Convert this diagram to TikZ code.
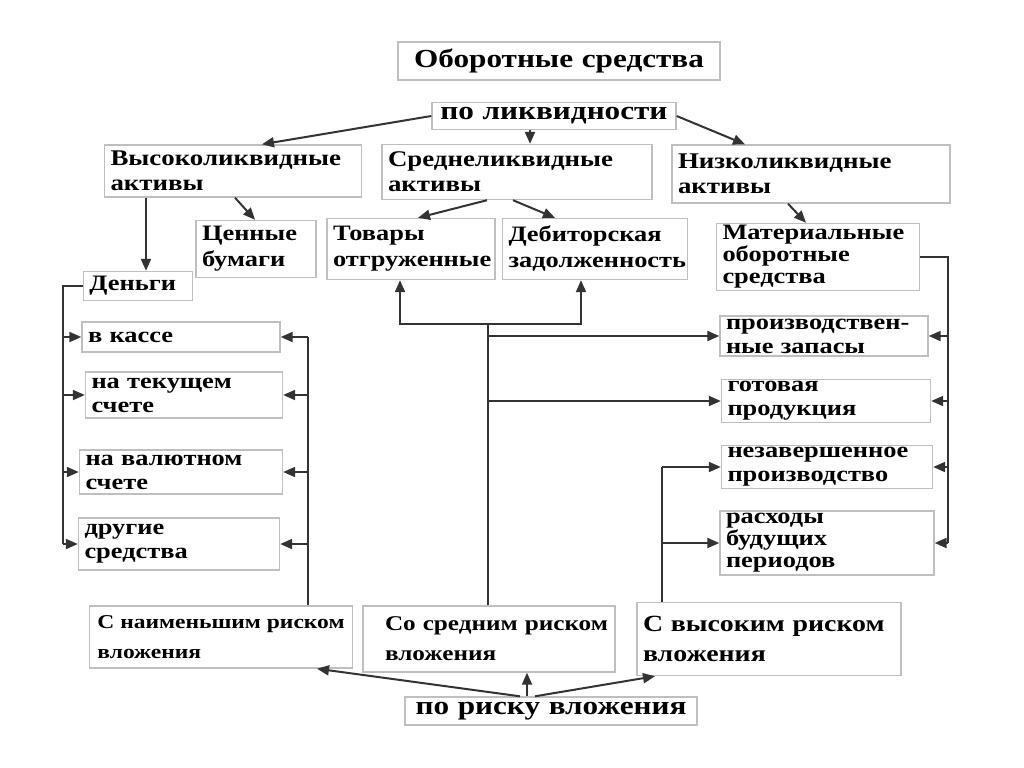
\documentclass[tikz,border=0pt]{standalone}
\usepackage{fontspec}
\setmainfont{Liberation Serif}[FakeStretch=1.2]
\usetikzlibrary{arrows.meta}

\newcommand{\boxfont}[2]{\bfseries\fontsize{#1}{#2}\selectfont}

\begin{document}
\begin{tikzpicture}[
  x=0.5pt, y=-0.5pt,
  box/.style={draw=gray!50, line width=0.7pt, align=left, inner xsep=3pt, inner ysep=1pt},
  head/.style={box, align=center, font=\boxfont{13}{15}},
  group/.style={box, font=\boxfont{11.2}{12.5}},
  item/.style={box, font=\boxfont{11}{13}},
  small/.style={box, font=\boxfont{11}{12}},
  riskbox/.style={box, font=\boxfont{10.5}{15}},
  line/.style={draw=black!80, line width=1pt},
  arr/.style={line, -{Triangle[length=6pt,width=5pt]}}
]
\useasboundingbox (0,0) rectangle (1024,767);

% top levels
\node[head, text width=155pt, minimum height=19pt] (title) at (559,61) {Оборотные средства};
\node[head, text width=116pt, minimum height=13.5pt] (liq) at (554,116) {по ликвидности};

\node[group, text width=122.5pt, minimum height=26pt] (high) at (233,171) {Высоколиквидные\\активы};
\node[group, text width=129pt, minimum height=27.5pt] (mid) at (517,172) {Среднеликвидные\\активы};
\node[group, text width=133pt, minimum height=29pt] (low) at (811,174) {Низколиквидные\\активы};

\node[item, text width=54pt, minimum height=28.5pt] (cb) at (256,249) {Ценные\\бумаги};
\node[item, text width=78pt, minimum height=30.5pt] (tov) at (411,249) {Товары\\отгруженные};
\node[item, text width=86.5pt, minimum height=30.5pt] (deb) at (595,249) {Дебиторская\\задолженность};
\node[small, text width=95.5pt, minimum height=33pt, font=\boxfont{11}{11}] (mat) at (818,257) {Материальные\\оборотные\\средства};

% money
\node[item, text width=48.5pt, minimum height=14.5pt] (den) at (138,286) {Деньги};
\node[small, text width=93pt, minimum height=15pt] (kas) at (181,337) {в кассе};
\node[small, text width=92.5pt, minimum height=23pt] (tek) at (184,395) {на текущем\\счете};
\node[small, text width=95.5pt, minimum height=22pt] (val) at (181,472) {на валютном\\счете};
\node[small, text width=94.5pt, minimum height=26pt] (dr) at (179,544) {другие\\средства};

% material
\node[small, text width=98pt, minimum height=20pt] (pz) at (824,336) {производствен-\\ные запасы};
\node[small, text width=98.5pt, minimum height=18.5pt] (gp) at (826,401) {готовая\\продукция};
\node[small, text width=99.5pt, minimum height=21.5pt] (nzp) at (827,467) {незавершенное\\производство};
\node[small, text width=101pt, minimum height=32pt, font=\boxfont{11}{11}] (rbp) at (827,543) {расходы\\будущих\\периодов};

% risk
\node[riskbox, minimum width=131.5pt, minimum height=31pt, inner xsep=2pt, font=\boxfont{9.8}{15}] (rlow) at (221,637) {С наименьшим риском\\вложения};
\node[riskbox, text width=120pt, minimum height=33pt] (rmid) at (489,639) {\hspace*{8pt}Со средним риском\\\hspace*{8pt}вложения};
\node[riskbox, text width=126pt, minimum height=36.5pt, font=\boxfont{11.6}{15}] (rhigh) at (769,639) {С высоким риском\\вложения};
\node[head, text width=140pt, minimum height=14pt] (risk) at (551,711) {по риску вложения};

\coordinate (br) at (488,324);

% liquidity arrows
\draw[arr] (liq.west) -- (262,0 |- high.north);
\draw[arr] (530,0 |- liq.south) -- (530,0 |- mid.north);
\draw[arr] (liq.east) -- (745,0 |- low.north);
\draw[arr] (146,0 |- high.south) -- (146,0 |- den.north);
\draw[arr] (235,0 |- high.south) -- (255,0 |- cb.north);
\draw[arr] (487,0 |- mid.south) -- (418,0 |- tov.north);
\draw[arr] (513,0 |- mid.south) -- (555,0 |- deb.north);
\draw[arr] (788,0 |- low.south) -- (806,0 |- mat.north);

% money bus
\draw[line] (den.west) -| (63,0 |- dr.west);
\foreach \n in {kas,tek,val,dr}
  \draw[arr] (63,0 |- \n.west) -- (\n.west);

% material bus
\draw[line] (mat.east) -| (948,0 |- rbp.east);
\foreach \n in {pz,gp,nzp,rbp}
  \draw[arr] (948,0 |- \n.east) -- (\n.east);

% risk branches
\draw[line] (308,0 |- rlow.north) -- (308,0 |- kas.east);
\foreach \n in {kas,tek,val,dr}
  \draw[arr] (308,0 |- \n.east) -- (\n.east);

\draw[line] (488,0 |- rmid.north) -- (br);
\draw[arr] (br) -| (400,0 |- tov.south);
\draw[arr] (br) -| (581,0 |- deb.south);
\foreach \n in {pz,gp}
  \draw[arr] (488,0 |- \n.west) -- (\n.west);

\draw[line] (662,0 |- rhigh.north) -- (662,0 |- nzp.west);
\foreach \n in {nzp,rbp}
  \draw[arr] (662,0 |- \n.west) -- (\n.west);

\draw[arr] (520,0 |- risk.north) -- (317,0 |- rlow.south);
\draw[arr] (527,0 |- risk.north) -- (527,0 |- rmid.south);
\draw[arr] (535,0 |- risk.north) -- (655,0 |- rhigh.south);

\end{tikzpicture}
\end{document}
